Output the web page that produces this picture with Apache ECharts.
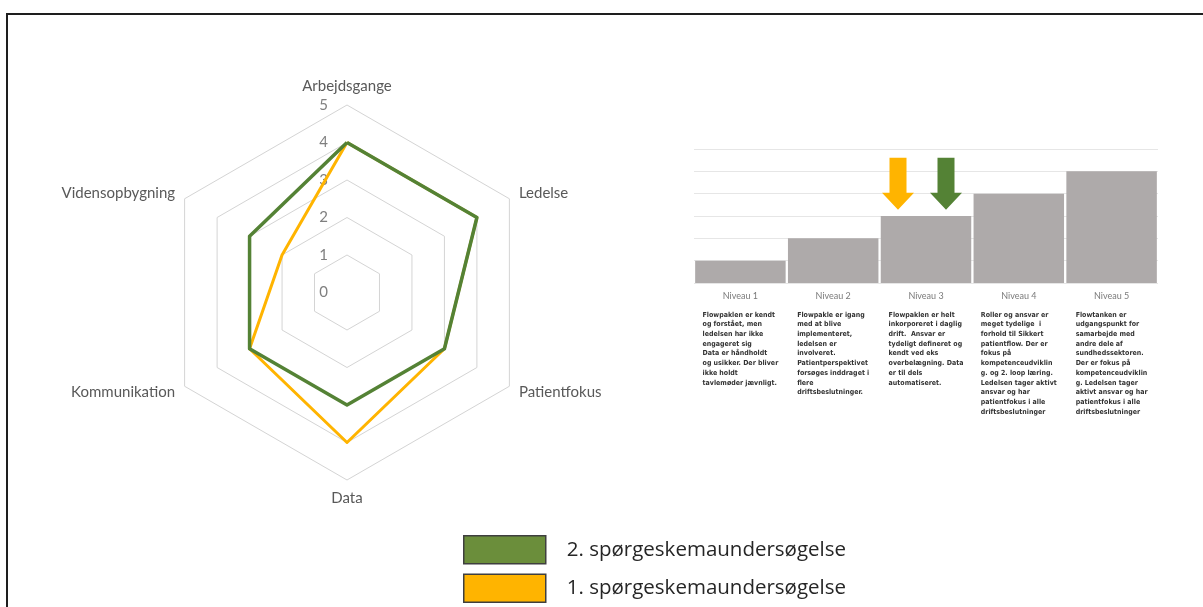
<!DOCTYPE html>
<html>
<head>
<meta charset="utf-8">
<script src="https://cdn.jsdelivr.net/npm/echarts@6/dist/echarts.min.js"></script>
<style>
  html, body { margin: 0; padding: 0; background: #fff; }
  #chart { width: 1203px; height: 607px; }
  #frame { position: absolute; left: 6px; top: 13px; right: 0; bottom: 0;
           border-top: 2px solid #1e1e1e; border-left: 2px solid #1e1e1e; pointer-events: none; }
</style>
</head>
<body>
<div id="chart"></div>
<div id="frame"></div>
<script>
// Radar dimensions, clockwise from the top
const dimensions = ['Arbejdsgange', 'Ledelse', 'Patientfokus', 'Data', 'Kommunikation', 'Vidensopbygning'];
const survey1Name = '1. spørgeskemaundersøgelse';
const survey2Name = '2. spørgeskemaundersøgelse';
const survey1 = [4, 4, 3, 4, 3, 2];
const survey2 = [4, 4, 3, 3, 3, 3];
const radarMax = 5;

// Maturity ladder
const levels = ['Niveau 1', 'Niveau 2', 'Niveau 3', 'Niveau 4', 'Niveau 5'];
const levelHeights = [1, 2, 3, 4, 5];
const ladderMax = 6;
const survey1Level = 'Niveau 3';
const survey2Level = 'Niveau 3';
const levelTexts = [
  ['Flowpaklen er kendt', 'og forstået, men', 'ledelsen har ikke', 'engageret sig', 'Data er håndholdt', 'og usikker. Der bliver', 'ikke holdt', 'tavlemøder jævnligt.'],
  ['Flowpakle er igang', 'med at blive', 'implementeret,', 'ledelsen er', 'involveret.', 'Patientperspektivet', 'forsøges inddraget i', 'flere', 'driftsbeslutninger.'],
  ['Flowpaklen er helt', 'inkorporeret i daglig', 'drift.  Ansvar er', 'tydeligt defineret og', 'kendt ved eks', 'overbelægning. Data', 'er til dels', 'automatiseret.'],
  ['Roller og ansvar er', 'meget tydelige  i', 'forhold til Sikkert', 'patientflow. Der er', 'fokus på', 'kompetenceudviklin', 'g. og 2. loop læring.', 'Ledelsen tager aktivt', 'ansvar og har', 'patientfokus i alle', 'driftsbeslutninger'],
  ['Flowtanken er', 'udgangspunkt for', 'samarbejde med', 'andre dele af', 'sundhedssektoren.', 'Der er fokus på', 'kompetenceudviklin', 'g. Ledelsen tager', 'aktivt ansvar og har', 'patientfokus i alle', 'driftsbeslutninger']
];

const GREEN = '#548235';
const GREEN_LEGEND = '#6b8e3b';
const YELLOW = '#ffb400';

// ECharts lays radar indicators out counter-clockwise, so keep the first
// dimension on top and reverse the rest.
const order = [0].concat(dimensions.map((_, i) => i).slice(1).reverse());
const pick = arr => order.map(i => arr[i]);

const indicator = pick(dimensions).map((name, i) => {
  const ind = { name: name, min: 0, max: radarMax };
  if (i === 0) {
    ind.axisLabel = { show: true, color: '#7f7f7f', fontSize: 15, fontFamily: 'Lato, sans-serif', margin: 19 };
  }
  return ind;
});

const arrowPath = 'path://M7.5,0 L24.5,0 L24.5,35 L32,35 L16,52 L0,35 L7.5,35 Z';

const chart = echarts.init(document.getElementById('chart'));
chart.setOption({
  backgroundColor: '#ffffff',
  animation: false,
  textStyle: { fontFamily: 'Lato, sans-serif' },
  legend: {
    data: [
      { name: survey2Name, itemStyle: { color: GREEN_LEGEND, borderColor: '#3f3f3f', borderWidth: 1.5 },
        textStyle: { padding: [6, 0, 0, 16] } },
      { name: survey1Name, itemStyle: { color: YELLOW, borderColor: '#3f3f3f', borderWidth: 1.5 },
        textStyle: { padding: [0, 0, 6, 16] } }
    ],
    orient: 'vertical',
    left: 463,
    top: 535,
    padding: 0,
    icon: 'rect',
    itemWidth: 82,
    itemHeight: 28,
    itemGap: 9,
    textStyle: { color: '#262626', fontSize: 20.5, fontFamily: '"Open Sans", sans-serif', padding: [0, 0, 0, 16] }
  },
  radar: {
    center: [347, 292.5],
    radius: 187.5,
    startAngle: 90,
    splitNumber: 5,
    shape: 'polygon',
    indicator: indicator,
    axisName: { color: '#595959', fontSize: 15, fontFamily: 'Lato, sans-serif' },
    nameGap: 11,
    axisLine: { show: false },
    axisTick: { show: false },
    axisLabel: { show: false },
    splitArea: { show: false },
    splitLine: { lineStyle: { color: '#d4d4d4', width: 1 } }
  },
  grid: { left: 694, right: 45, top: 149, bottom: 324 },
  xAxis: {
    type: 'category',
    data: levels,
    axisLine: { show: false },
    axisTick: { show: false },
    axisLabel: {
      interval: 0,
      margin: 6,
      formatter: function (value, idx) {
        const lines = levelTexts[idx].map(t => '{d|' + t + '}');
        return ['{t|' + value + '}', '{s| }'].concat(lines).join('\n');
      },
      rich: {
        t: { fontSize: 9, color: '#7a7a7a', lineHeight: 14, align: 'center', fontFamily: 'Lato, sans-serif' },
        s: { fontSize: 4, lineHeight: 7 },
        d: { fontSize: 7, color: '#333', lineHeight: 9.7, align: 'left', fontWeight: 'bold',
             fontFamily: '"Liberation Sans Narrow", "DejaVu Sans Condensed", sans-serif' }
      }
    }
  },
  yAxis: {
    type: 'value',
    min: 0,
    max: ladderMax,
    interval: 1,
    axisLabel: { show: false },
    axisLine: { show: false },
    axisTick: { show: false },
    splitLine: { lineStyle: { color: '#e6e6e6', width: 1 } }
  },
  series: [
    {
      type: 'radar',
      symbol: 'none',
      z: 3,
      data: [
        { name: survey1Name, value: pick(survey1), lineStyle: { color: YELLOW, width: 3 }, itemStyle: { color: YELLOW } },
        { name: survey2Name, value: pick(survey2), lineStyle: { color: GREEN, width: 3.5 }, itemStyle: { color: GREEN } }
      ]
    },
    {
      type: 'bar',
      data: levelHeights,
      barCategoryGap: '2.5%',
      itemStyle: { color: '#aeaaaa' },
      markPoint: {
        symbol: arrowPath,
        symbolSize: [32, 52],
        label: { show: false },
        data: [
          { coord: [survey1Level, levelHeights[levels.indexOf(survey1Level)] + 1.44], symbolOffset: [-28, 0], itemStyle: { color: YELLOW } },
          { coord: [survey2Level, levelHeights[levels.indexOf(survey2Level)] + 1.44], symbolOffset: [20, 0], itemStyle: { color: GREEN } }
        ]
      }
    }
  ]
});
</script>
</body>
</html>
